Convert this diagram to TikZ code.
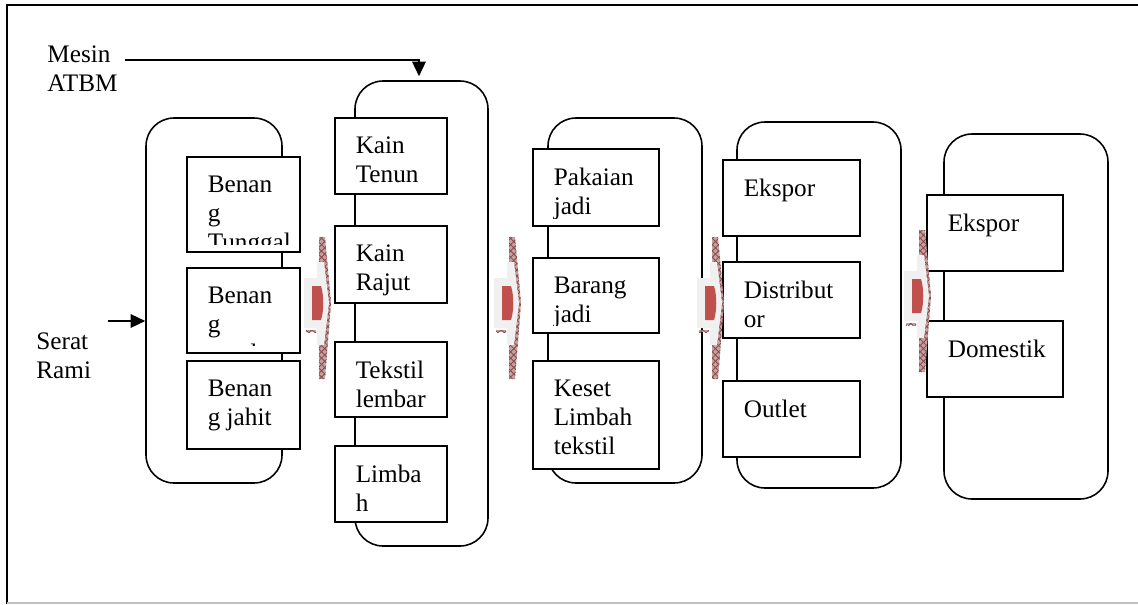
\documentclass[tikz,border=0pt]{standalone}
\usepackage{fontspec}
\setmainfont{Liberation Serif}
\usetikzlibrary{arrows.meta,patterns}
\newlength\pxu
\setlength\pxu{0.476pt}
\definecolor{chevred}{HTML}{C0504D}
\definecolor{chevbody}{HTML}{F0F0F0}
\definecolor{hatchbase}{HTML}{C4A2A2}
\definecolor{hatchline}{HTML}{8C4A4A}
\definecolor{framegrey}{HTML}{C0C0C0}
\begin{document}
\begin{tikzpicture}[x=0.476pt, y=-0.476pt,
        font=\fontsize{12pt}{13.8pt}\selectfont,
        group/.style={draw, line width=0.75pt, rounded corners=28\pxu, inner sep=0pt},
        item/.style={draw, line width=0.75pt, fill=white, inner sep=0pt,
            path picture={
                \clip ([yshift=8\pxu]path picture bounding box.south west) rectangle (path picture bounding box.north east);
                \node[draw=none, fill=none, minimum width=0pt, minimum height=0pt, anchor=north west, inner sep=0pt, align=left]
                    at ([xshift=20\pxu, yshift=-18.5\pxu]path picture bounding box.north west) {#1};}},
        label/.style={anchor=north west, inner sep=0pt, align=left},
        flow/.style={line width=0.75pt, -{Triangle[length=7pt, width=6.5pt]}},
        chevhatch/.style={fill=hatchbase, postaction={pattern=crosshatch, pattern color=hatchline}},
        chevbody/.style={fill=chevbody},
        chevcore/.style={fill=chevred}
    ]
    \useasboundingbox (0,0) rectangle (1138,604);
    % frame
    \draw[line width=0.75pt] (7,604) -- (7,5) -- (1138,5);
    \draw[framegrey, line width=0.75pt] (7,603) -- (1138,603);

    % groups
    \node[group, minimum width=136\pxu, minimum height=365\pxu] (g1) at (214,300.5) {};
    \node[group, minimum width=133\pxu, minimum height=465\pxu] (g2) at (421.5,313.5) {};
    \node[group, minimum width=154\pxu, minimum height=365\pxu] (g3) at (625,300.5) {};
    \node[group, minimum width=164\pxu, minimum height=366\pxu] (g4) at (819,305) {};
    \node[group, minimum width=164\pxu, minimum height=365\pxu] (g5) at (1026,316.5) {};

    % benang
    \node[item={Benan\\g\\Tunggal}, minimum width=113\pxu, minimum height=95\pxu] (tunggal) at (243.5,204.5) {};
    \node[item={Benan\\g\\ganda}, minimum width=113\pxu, minimum height=85\pxu] (ganda) at (243.5,310.5) {};
    \node[item={Benan\\g jahit}, minimum width=113\pxu, minimum height=88\pxu] (jahit) at (243.5,405) {};
    % kain
    \node[item={Kain\\Tenun}, minimum width=112\pxu, minimum height=76\pxu] (tenun) at (391,156) {};
    \node[item={Kain\\Rajut}, minimum width=112\pxu, minimum height=77\pxu] (rajut) at (391,264.5) {};
    \node[item={Tekstil\\lembar}, minimum width=112\pxu, minimum height=75\pxu] (lembar) at (391,379.5) {};
    \node[item={Limba\\h}, minimum width=112\pxu, minimum height=76\pxu] (limbah) at (391,484) {};
    % produk
    \node[item={Pakaian\\jadi}, minimum width=126\pxu, minimum height=77\pxu] (pakaian) at (596,187.5) {};
    \node[item={Barang\\jadi}, minimum width=126\pxu, minimum height=75\pxu] (barang) at (596,295.5) {};
    \node[item={Keset\\Limbah\\tekstil}, minimum width=126\pxu, minimum height=108\pxu] (keset) at (596,415) {};
    % pemasaran
    \node[item={Ekspor}, minimum width=137\pxu, minimum height=76\pxu] (ekspor) at (791.5,198) {};
    \node[item={Distribut\\or}, minimum width=137\pxu, minimum height=76\pxu] (distributor) at (791.5,300) {};
    \node[item={Outlet}, minimum width=137\pxu, minimum height=76\pxu] (outlet) at (791.5,419) {};
    % pasar
    \node[item={Ekspor}, minimum width=136\pxu, minimum height=76\pxu] (pasarekspor) at (995,233) {};
    \node[item={Domestik}, minimum width=136\pxu, minimum height=76\pxu] (domestik) at (995,359) {};

    % block arrows between the groups
    \foreach \ax/\ay in {304/303, 494/303, 697/303, 904/296} {
        \begin{scope}[shift={(\ax,\ay)}]
            \path[chevhatch] (15,-66) -- (21,-66) -- (27,0) -- (21,76) -- (15,76) -- cycle;
            \path[chevbody] (0,-25) -- (13,-25) -- (13,-41) -- (20,-41) -- (25,0) -- (20,42)
                -- (13,42) -- (13,25) -- (0,25) -- cycle;
            \path[chevcore] (8,-17) -- (17,-17) .. controls (20,-8) and (20,8) .. (17,17) -- (8,17) -- cycle;
            \path[chevhatch] (2,27) rectangle (12,29);
        \end{scope}
    }

    % inputs
    \node[label] (mesin) at (47,45) {Mesin\\ATBM};
    \node[label] (serat) at (36,332) {Serat\\Rami};
    \coordinate (atbmout) at (125,60);
    \coordinate (ramiin) at (108,321);
    \draw[flow] (atbmout) -| ([xshift=-2.5\pxu, yshift=4\pxu]g2.north);
    \draw[flow] (ramiin) -- (ramiin -| g1.west);
\end{tikzpicture}
\end{document}
